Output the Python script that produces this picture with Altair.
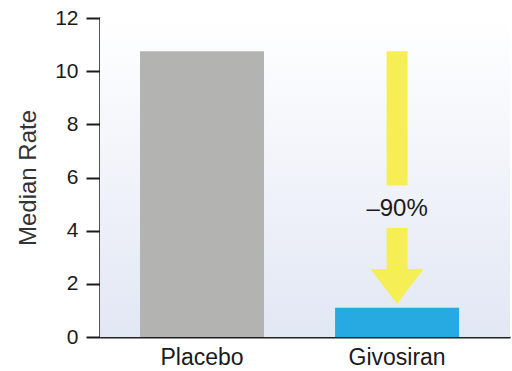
import altair as alt
import pandas as pd

# Median annualized attack rate by treatment group
groups = ["Placebo", "Givosiran"]
median_rate = [10.75, 1.1]
bar_colors = ["#b3b3b2", "#27a9e1"]

# Reduction annotation
change_label = "–90%"
label_level = 4.8           # y position of the percentage label
shaft_gap = [5.7, 4.1]      # shaft is interrupted around the label
head_base = 2.55            # where the arrow head starts
tip_gap = 0.15              # arrow tip stops just above the Givosiran bar

y_ticks = [0, 2, 4, 6, 8, 10, 12]

W, H = 410, 319
FONT = "Liberation Sans"

bars = pd.DataFrame({"group": groups, "rate": median_rate, "color": bar_colors})

x = alt.X(
    "group:N",
    sort=groups,
    scale=alt.Scale(domain=groups, paddingInner=0.364, paddingOuter=0.233, align=0.44),
    axis=alt.Axis(
        title=None, ticks=False, labelAngle=0, labelFontSize=23, labelColor="#1a1a1a",
        labelFont=FONT, labelPadding=9, domainColor="#222222", domainWidth=2,
    ),
)
y_scale = alt.Scale(domain=[0, 12], nice=False, zero=True)

background = alt.Chart(alt.Data(values=[{}])).mark_rect(
    color=alt.LinearGradient(
        gradient="linear", x1=0, x2=0, y1=0, y2=1,
        stops=[alt.GradientStop(offset=0, color="#ffffff"),
               alt.GradientStop(offset=1, color="#e2e7f4")],
    )
).encode(x=alt.value(0), x2=alt.value(W), y=alt.value(0), y2=alt.value(H))

bar_layer = alt.Chart(bars).mark_bar(size=124).encode(
    x=x,
    y=alt.Y(
        "rate:Q", scale=y_scale,
        axis=alt.Axis(
            title="Median Rate", values=y_ticks, grid=False, tickSize=14, tickWidth=2,
            tickColor="#1a1a1a", domainColor="#1a1a1a", domainWidth=2.5, labelFontSize=21,
            labelColor="#1a1a1a", labelFont=FONT, labelPadding=8, titleFont=FONT,
            titleFontSize=24, titleFontWeight="normal", titleColor="#333333", titlePadding=14,
        ),
    ),
    color=alt.Color("color:N", scale=None),
)

placebo, givosiran = median_rate
shafts = pd.DataFrame({
    "group": [groups[1], groups[1]],
    "top": [placebo, shaft_gap[1]],
    "bottom": [shaft_gap[0], head_base],
})
shaft_layer = alt.Chart(shafts).mark_bar(size=21, color="#f5ef55").encode(
    x=alt.X("group:N", sort=groups), y=alt.Y("top:Q", scale=y_scale), y2="bottom:Q"
)

head = pd.DataFrame({"group": [groups[1]], "mid": [(head_base + givosiran + tip_gap) / 2]})
head_layer = alt.Chart(head).mark_point(
    shape="M -1 -0.66 L 1 -0.66 L 0 0.66 Z", size=53 * 53, filled=True,
    color="#f5ef55", opacity=1, strokeWidth=0,
).encode(x=alt.X("group:N", sort=groups), y=alt.Y("mid:Q", scale=y_scale))

label = pd.DataFrame({"group": [groups[1]], "level": [label_level], "text": [change_label]})
label_layer = alt.Chart(label).mark_text(
    fontSize=24, font=FONT, color="#1a1a1a", baseline="middle", align="center"
).encode(x=alt.X("group:N", sort=groups), y=alt.Y("level:Q", scale=y_scale), text="text:N")

chart = alt.layer(
    background, bar_layer, shaft_layer, head_layer, label_layer
).resolve_scale(color="independent").properties(
    width=W, height=H,
    autosize=alt.AutoSizeParams(type="none"),
    padding={"left": 100, "top": 18, "right": 2, "bottom": 34},
    background="#ffffff",
).configure_view(stroke=None)

chart.save("out.html", embed_options={"renderer": "svg", "actions": False})
